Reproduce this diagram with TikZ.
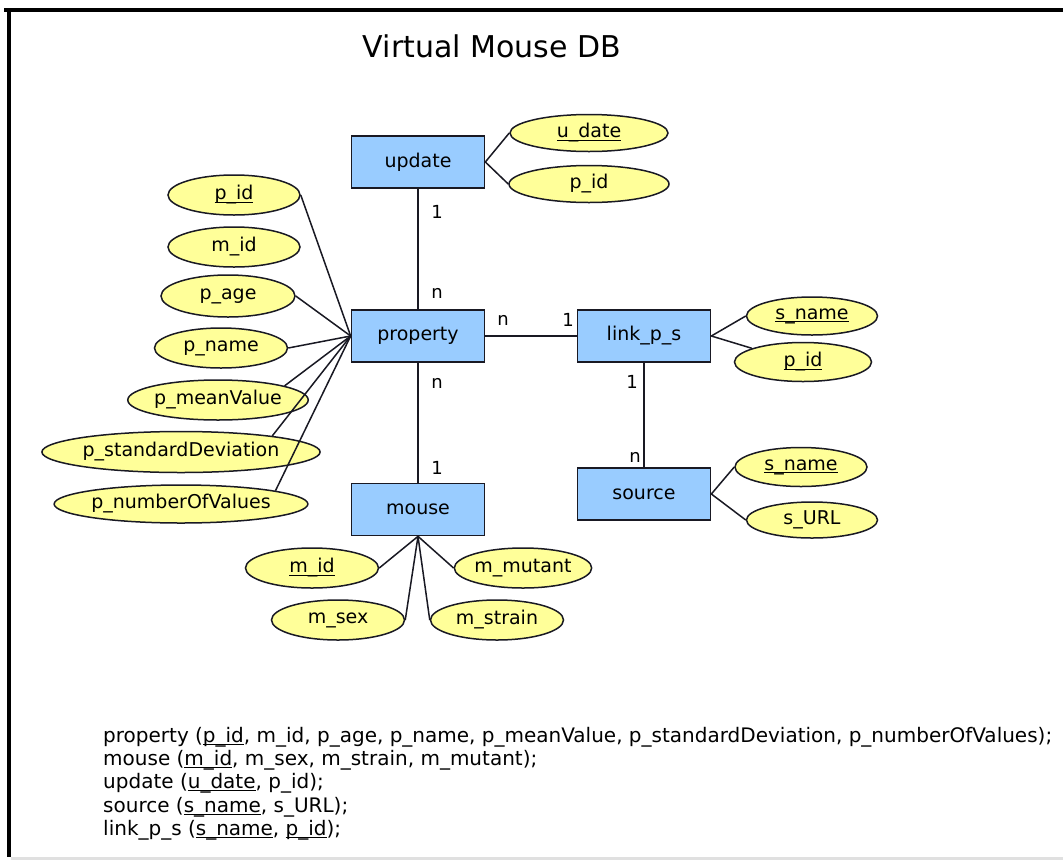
\documentclass[tikz,border=0pt]{standalone}
\usepackage{fontspec}
\setmainfont{DejaVu Sans}
\usetikzlibrary{shapes.geometric}
\definecolor{entblue}{RGB}{153,204,255}
\definecolor{attyellow}{RGB}{255,255,153}
\definecolor{edgecol}{RGB}{25,25,35}
\newcommand\pk[1]{\setbox0\hbox{#1}\rlap{\rule[-0.16em]{\wd0}{0.07em}}\box0}
\begin{document}
\begin{tikzpicture}[x=1pt,y=-1pt,
  entity/.style={draw=edgecol, fill=entblue, line width=1.7pt, minimum width=133pt, minimum height=52pt, inner sep=0pt, font=\fontsize{19}{22}\selectfont},
  attr/.style={ellipse, draw=edgecol, fill=attyellow, line width=1.5pt, inner sep=0pt, minimum height=39pt, font=\fontsize{19}{22}\selectfont},
  card/.style={font=\fontsize{18}{20}\selectfont, inner sep=0pt},
  conn/.style={draw=edgecol, line width=1.5pt},
  schema/.style={anchor=base west, inner sep=0pt, font=\fontsize{20}{23}\selectfont}]
\fill[white] (0,0) rectangle (1063,860);
\path[use as bounding box] (0,0) rectangle (1063,860);
% frame
\fill[black] (4,8) rectangle (1063,11.5);
\fill[black] (7,8) rectangle (10.5,857);
\fill[black!12] (10.5,857) rectangle (1063,860);
% title
\node[font=\fontsize{30}{36}\selectfont, anchor=base, inner sep=0pt] (title) at (492,57) {Virtual Mouse DB};
% entities
\node[entity] (update) at (418,162) {update};
\node[entity] (prop) at (418,336) {property};
\node[entity] (link) at (644,336) {link\_p\_s};
\node[entity] (mouse) at (418,509.5) {mouse};
\node[entity] (source) at (644,494) {source};
% attributes
\node[attr, minimum width=158pt, minimum height=37pt] (udate) at (589,133) {\pk{u\_date}};
\node[attr, minimum width=160pt, minimum height=37pt] (upid) at (589,184) {p\_id};
\node[attr, minimum width=132pt, minimum height=40pt] (pid) at (234,195) {\pk{p\_id}};
\node[attr, minimum width=132pt, minimum height=40pt] (mid) at (234,247) {m\_id};
\node[attr, minimum width=134pt, minimum height=42pt] (page) at (228,296) {p\_age};
\node[attr, minimum width=133pt, minimum height=40pt] (pname) at (221,348) {p\_name};
\node[attr, minimum width=167pt, minimum height=40pt] (pmean) at (218,400) {p\_meanValue};
\node[attr, minimum width=242pt, minimum height=41pt] (pstd) at (181,452) {p\_standardDeviation};
\node[attr, minimum width=238pt, minimum height=38pt] (pnum) at (181,504) {p\_numberOfValues};
\node[attr, minimum width=131pt, minimum height=38pt] (lsname) at (812,316) {\pk{s\_name}};
\node[attr, minimum width=137pt, minimum height=39pt] (lpid) at (803,362) {\pk{p\_id}};
\node[attr, minimum width=132pt, minimum height=39pt] (ssname) at (801,467) {\pk{s\_name}};
\node[attr, minimum width=131pt, minimum height=36pt] (surl) at (812,520) {s\_URL};
\node[attr, minimum width=133pt, minimum height=40pt] (mmid) at (312,568) {\pk{m\_id}};
\node[attr, minimum width=132pt, minimum height=40pt] (mmut) at (523,568) {m\_mutant};
\node[attr, minimum width=133pt, minimum height=40pt] (msex) at (338,620) {m\_sex};
\node[attr, minimum width=133pt, minimum height=40pt] (mstr) at (497,620) {m\_strain};
% relationships
\draw[conn] (update) -- (prop);
\draw[conn] (prop) -- (link);
\draw[conn] (prop) -- (mouse);
\draw[conn] (link) -- (source);
% attribute links
\draw[conn] (update.east) -- (udate.west);
\draw[conn] (update.east) -- (upid.west);
\draw[conn] (prop.west) -- (pid.east);
\draw[conn] (prop.west) -- (page.east);
\draw[conn] (prop.west) -- (pname.east);
\draw[conn] (prop.west) -- (pmean.12);
\draw[conn] (prop.west) -- (pstd.10);
\draw[conn] (prop.west) -- (pnum.8);
\draw[conn] (link.east) -- (lsname.west);
\draw[conn] (link.east) -- (lpid.165);
\draw[conn] (source.east) -- (ssname.west);
\draw[conn] (source.east) -- (surl.west);
\draw[conn] (mouse.south) -- (mmid.east);
\draw[conn] (mouse.south) -- (msex.east);
\draw[conn] (mouse.south) -- (mstr.west);
\draw[conn] (mouse.south) -- (mmut.west);
% cardinalities
\node[card] (c1) at (437,212) {1};
\node[card] (c2) at (437,293) {n};
\node[card] (c3) at (503,320) {n};
\node[card] (c4) at (568,320) {1};
\node[card] (c5) at (437,383) {n};
\node[card] (c6) at (437,468) {1};
\node[card] (c7) at (632,382) {1};
\node[card] (c8) at (635,457) {n};
% schema
\node[schema] (s1) at (103,742) {property (\pk{p\_id}, m\_id, p\_age, p\_name, p\_meanValue, p\_standardDeviation, p\_numberOfValues);};
\node[schema] (s2) at (103,765) {mouse (\pk{m\_id}, m\_sex, m\_strain, m\_mutant);};
\node[schema] (s3) at (103,788) {update (\pk{u\_date}, p\_id);};
\node[schema] (s4) at (103,812) {source (\pk{s\_name}, s\_URL);};
\node[schema] (s5) at (103,835) {link\_p\_s (\pk{s\_name}, \pk{p\_id});};
\end{tikzpicture}
\end{document}
